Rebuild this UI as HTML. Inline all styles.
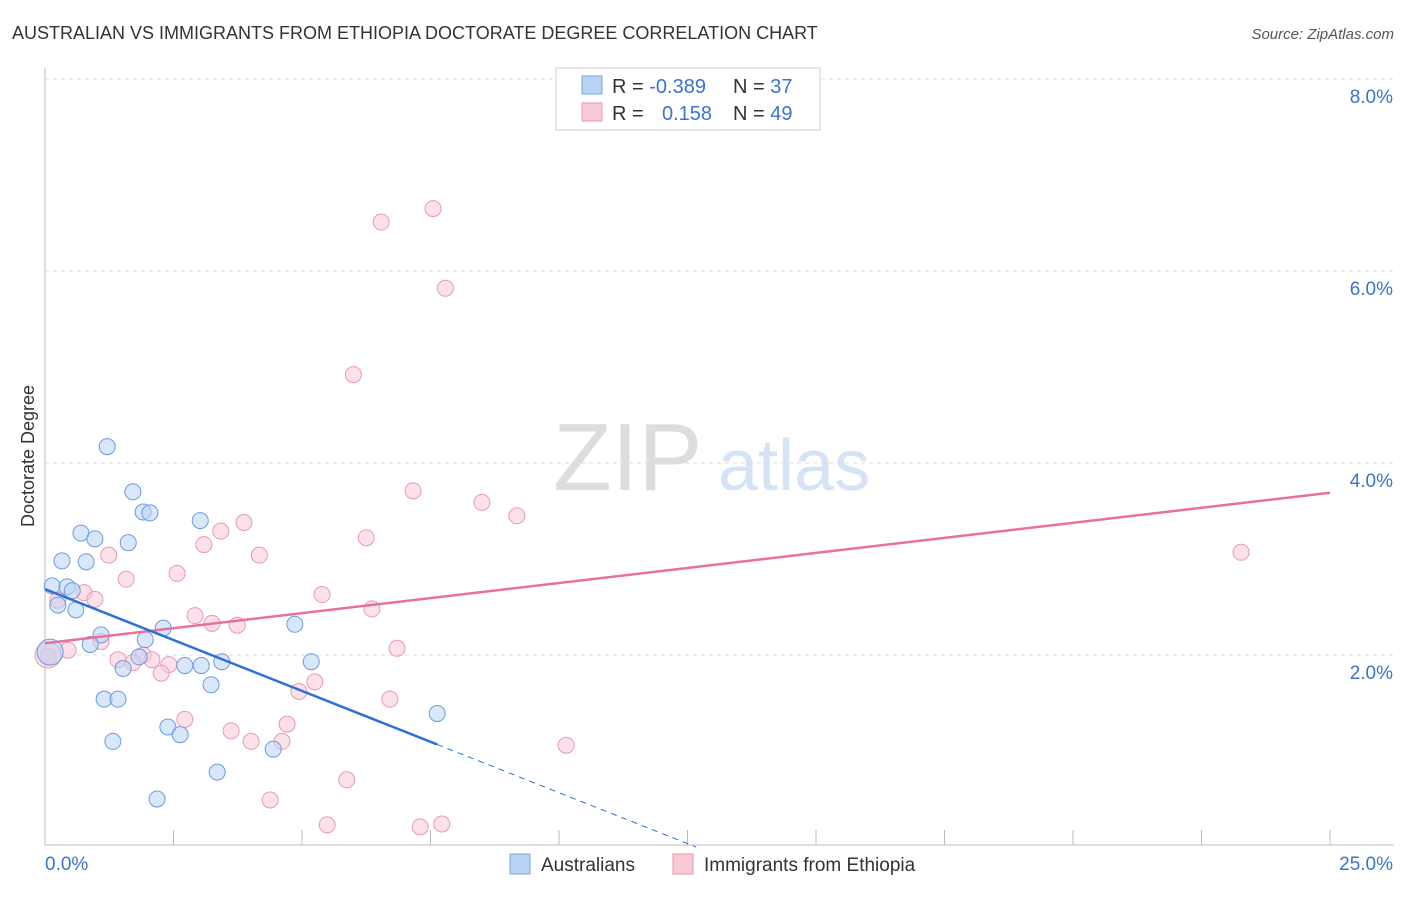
<!DOCTYPE html>
<html><head><meta charset="utf-8"><style>
body{margin:0;background:#fff;font-family:"Liberation Sans",sans-serif;}
svg text{font-family:"Liberation Sans",sans-serif;}
</style></head><body>
<svg id="chart" width="1406" height="892" xmlns="http://www.w3.org/2000/svg">
<text x="12" y="39" font-size="18" fill="#333">AUSTRALIAN VS IMMIGRANTS FROM ETHIOPIA DOCTORATE DEGREE CORRELATION CHART</text>
<text x="1394" y="39" font-size="15" fill="#555" font-style="italic" text-anchor="end">Source: ZipAtlas.com</text>
<text x="553" y="490" font-size="96" fill="#ddd" font-family="Liberation Serif">ZIP</text>
<text x="718" y="490" font-size="72" fill="#d4e3f5">atlas</text>
<text x="34" y="456" font-size="18" fill="#333" transform="rotate(-90 34 456)" text-anchor="middle">Doctorate Degree</text>
<g id="grid"></g><g id="marks"></g>
<g>
<rect x="556" y="68" width="264" height="62" fill="#fff" stroke="#ccc"/>
<rect x="582" y="76" width="20" height="18" fill="#b9d3f5" stroke="#7aa6e0"/>
<rect x="582" y="103" width="20" height="18" fill="#f9c9d6" stroke="#e89ab0"/>
<text x="612" y="93" font-size="20" fill="#333">R = <tspan fill="#3b73d1">-0.389</tspan><tspan x="733">N = </tspan><tspan fill="#3b73d1">37</tspan></text>
<text x="612" y="120" font-size="20" fill="#333">R = <tspan x="662" fill="#3b73d1">0.158</tspan><tspan x="733">N = </tspan><tspan fill="#3b73d1">49</tspan></text>
</g>
<g>
<rect x="510" y="854" width="20" height="20" fill="#b9d3f5" stroke="#7aa6e0"/>
<text x="541" y="871" font-size="19" fill="#333">Australians</text>
<rect x="673" y="854" width="20" height="20" fill="#f9c9d6" stroke="#e89ab0"/>
<text x="704" y="871" font-size="19" fill="#333">Immigrants from Ethiopia</text>
</g>
</svg>
<script>
const yTicks=[2,4,6,8];
const yTickLabels=["2.0%","4.0%","6.0%","8.0%"];
const xTickLabels=["0.0%","25.0%"];
const ausX=[1.21,1.71,1.91,2.04,3.02,0.70,0.97,1.62,0.33,0.80,0.14,0.43,0.53,0.25,0.60,4.86,2.30,1.09,1.95,0.88,1.83,3.44,2.72,3.04,1.52,5.18,3.23,1.15,1.42,7.63,2.39,2.63,1.32,4.44,3.35,2.18,0.10];
const ausY=[4.17,3.70,3.49,3.48,3.40,3.27,3.21,3.17,2.98,2.97,2.72,2.71,2.67,2.52,2.47,2.32,2.28,2.21,2.16,2.11,1.98,1.93,1.89,1.89,1.86,1.93,1.69,1.54,1.54,1.39,1.25,1.17,1.10,1.02,0.78,0.50,2.03];
const ethX=[7.55,6.54,7.79,6.00,7.16,8.50,9.18,3.87,3.42,3.09,6.25,4.17,1.24,2.57,1.58,0.76,0.97,5.39,0.25,6.36,2.92,3.25,3.74,1.09,6.85,0.45,0.06,1.91,2.08,1.42,1.71,2.41,2.26,5.25,4.94,6.71,2.72,4.71,3.62,4.01,4.61,10.14,5.87,4.38,5.49,7.30,7.72,23.27,0.06];
const ethY=[6.65,6.51,5.82,4.92,3.71,3.59,3.45,3.38,3.29,3.15,3.22,3.04,3.04,2.85,2.79,2.65,2.58,2.63,2.57,2.48,2.41,2.33,2.31,2.14,2.07,2.05,1.98,2.00,1.95,1.95,1.92,1.90,1.81,1.72,1.62,1.54,1.33,1.28,1.21,1.10,1.10,1.06,0.70,0.49,0.23,0.21,0.24,3.07,2.00];
const X=v=>45+v/25*1285, Y=v=>847-v*96;
const NS="http://www.w3.org/2000/svg";
function mk(t,a,p){const e=document.createElementNS(NS,t);for(const k in a)e.setAttribute(k,a[k]);p.appendChild(e);return e;}
const grid=document.getElementById('grid'),marks=document.getElementById('marks');
yTicks.forEach((t,i)=>{
const l=mk('line',{x1:45,x2:1394,y1:Y(t),y2:Y(t),stroke:'#ddd','stroke-dasharray':'4,4'},grid);


const tx=mk('text',{x:1393,y:Y(t)+24,'font-size':19,fill:'#3b73d1','text-anchor':'end'},grid);tx.textContent=yTickLabels[i];


});
mk('line',{x1:45,x2:45,y1:68,y2:845,stroke:'#bbb'},grid);
mk('line',{x1:45,x2:1394,y1:845,y2:845,stroke:'#bbb'},grid);
for(let i=0;i<=10;i++){const x=X(i*2.5);const t=mk('line',{x1:x,x2:x,y1:830,y2:845,stroke:'#bbb'},grid);

}
const xl0=mk('text',{x:45,y:870,'font-size':19,fill:'#3b73d1'},grid);xl0.textContent=xTickLabels[0];


const xl1=mk('text',{x:1393,y:870,'font-size':19,fill:'#3b73d1','text-anchor':'end'},grid);xl1.textContent=xTickLabels[1];


function pts(xs,ys,fill,stroke,name){xs.forEach((v,i)=>{const big=(i===xs.length-1);
const c=mk('circle',{cx:X(v),cy:Y(ys[i]),r:big?13:8,fill:fill,'fill-opacity':0.55,stroke:stroke,'stroke-width':1},marks);

});}
pts(ethX,ethY,'#f9c9d6','#e89ab0','ethiopia-point');
pts(ausX,ausY,'#b9d3f5','#6a9be0','australians-point');
function fit(xs,ys){const n=xs.length;let mx=0,my=0;xs.forEach((v,i)=>{mx+=v;my+=ys[i];});mx/=n;my/=n;let sxy=0,sxx=0;xs.forEach((v,i)=>{sxy+=(v-mx)*(ys[i]-my);sxx+=(v-mx)*(v-mx);});const b=sxy/sxx;return [my-b*mx,b];}
const [ea,eb]=fit(ethX,ethY);
const el=mk('line',{x1:X(0),y1:Y(ea),x2:X(25),y2:Y(ea+eb*25),stroke:'#e8709a','stroke-width':2.5},marks);


const [aa,ab]=fit(ausX,ausY);
const xmax=Math.max(...ausX);
const al=mk('line',{x1:X(0),y1:Y(aa),x2:X(xmax),y2:Y(aa+ab*xmax),stroke:'#2e6fd8','stroke-width':2.5},marks);


const xz=ab<0?Math.min(25,-aa/ab):25;
const ad=mk('line',{x1:X(xmax),y1:Y(aa+ab*xmax),x2:X(xz),y2:Y(aa+ab*xz),stroke:'#2e6fd8','stroke-width':1,'stroke-dasharray':'6,5'},marks);


</script>
</body></html>
